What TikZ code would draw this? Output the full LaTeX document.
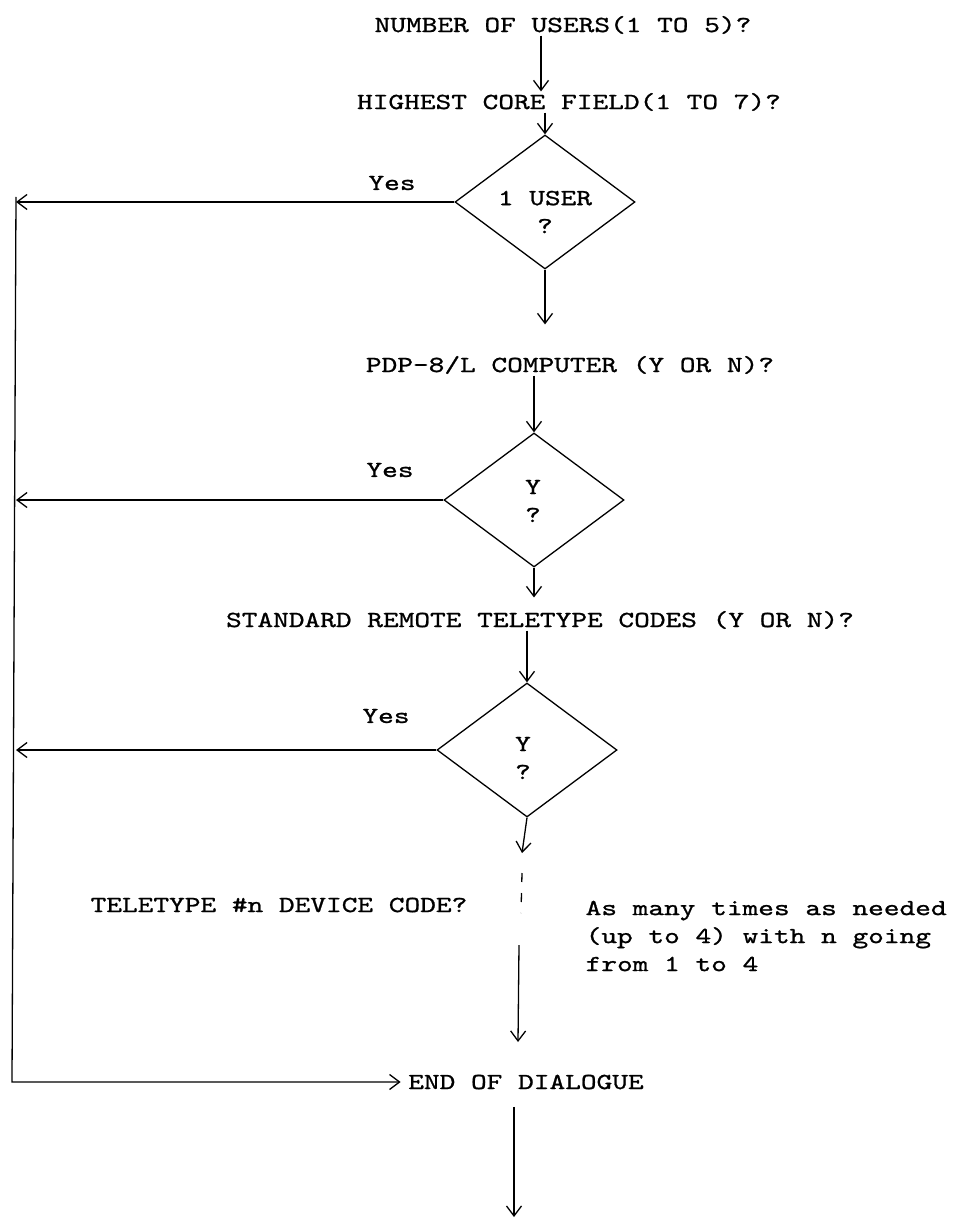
\documentclass[tikz,border=0pt]{standalone}
\usepackage{fontspec}
\usepackage{tikz}
\usetikzlibrary{
  arrows.meta,
  positioning,
  shapes.geometric
}
\newfontfamily\typer{lmmono10-regular}[Extension=.otf,FakeStretch=1.3,FakeBold=1]

\begin{document}
\begin{tikzpicture}[x=1pt,y=-1pt,
  line width=1.3pt,
  >={Straight Barb[length=10pt,width=15pt]},
  txt/.style={font=\fontsize{23}{28}\typer, inner sep=1pt},
  decide/.style={draw, diamond, minimum width=180pt, minimum height=134pt, inner sep=0pt}]
\useasboundingbox (0,0) rectangle (966,1222);
\node[txt] (users) at (563,25) {NUMBER OF USERS(1 TO 5)?};
\node[txt] (core) at (569,102) {HIGHEST CORE FIELD(1 TO 7)?};
\node[decide] (one) at (545,202) {};
\node[txt, align=center] (onetxt) at (545,212) {1 USER\\?};
\node[txt] (comp) at (570,365) {PDP-8/L COMPUTER (Y OR N)?};
\node[decide] (two) at (534,500) {};
\node[txt, align=center] (twotxt) at (533,501) {Y\\?};
\node[txt] (std) at (540,620) {STANDARD REMOTE TELETYPE CODES (Y OR N)?};
\node[decide] (three) at (527,750) {};
\node[txt, align=center] (threetxt) at (523,758) {Y\\?};
\node[txt] (dev) at (279,905) {TELETYPE \#n DEVICE CODE?};
\node[txt, align=left, anchor=west] (note) at (584,936)
  {As many times as needed\\(up to 4) with n going\\from 1 to 4};
\node[txt] (endd) at (526,1082) {END OF DIALOGUE};
% yes answers
\node[txt] (yes1) at (392,183) {Yes};
\node[txt] (yes2) at (390,470) {Yes};
\node[txt] (yes3) at (386,716) {Yes};
% loop and spine points
\coordinate (gapTop) at (522,853);
\coordinate (dashA) at (522,873);
\coordinate (dashB) at (521,913);
\coordinate (gapBot) at (519,945);
\coordinate (tipEnd) at (518,1042);
\coordinate (spineTop) at (16,197);
\coordinate (spineBot) at (12,1082);
\coordinate (exit) at (514,1217);
% main flow
\draw[->] (users.south -| 541,0) -- (core.north -| 541,0);
\draw[->] (core.south -| one.north) -- (one.north);
\draw[->, shorten >=30pt] (one.south) -- (one.south |- comp.north);
\draw[->] (comp.south -| two.north) -- (two.north);
\draw[->, shorten >=12pt] (two.south) -- (two.south |- std.north);
\draw[->] (std.south -| three.north) -- (three.north);
\draw[->] (three.south) -- (gapTop);
\draw[dash pattern=on 9pt off 11pt] (dashA) -- (dashB);
\draw[->] (gapBot) -- (tipEnd);
\draw[->, shorten <=16pt] (endd.south -| exit) -- (exit);
% yes branches
\draw[->] (one.west) -- (one.west -| spineTop);
\draw[->] (two.west) -- (two.west -| spineTop);
\draw[->] (three.west) -- (three.west -| spineTop);
\draw[->, shorten >=6pt] (spineTop) -- (spineBot) -- (endd.west);
\end{tikzpicture}
\end{document}
